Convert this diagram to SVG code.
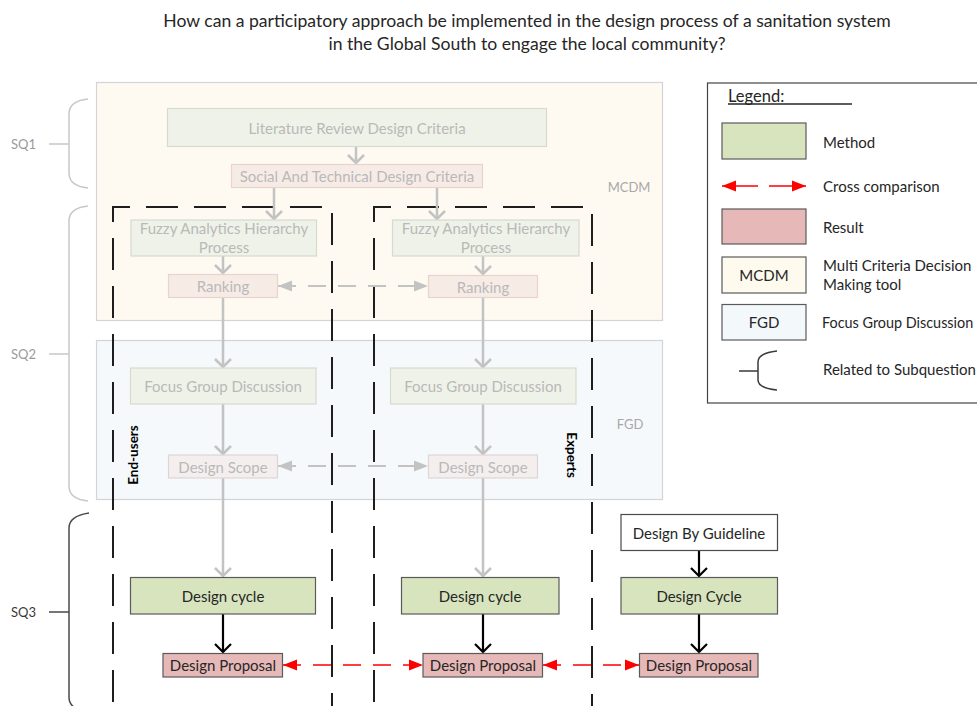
<svg xmlns="http://www.w3.org/2000/svg" width="977" height="706" viewBox="0 0 977 706">
<defs>
<style>
text{font-family:Lato,"Open Sans","Liberation Sans",sans-serif;dominant-baseline:central}
.t{fill:#262626;font-size:15px;text-anchor:middle}
.tf{fill:#b9b9b9;font-size:15px;text-anchor:middle}
.lg{fill:#262626;font-size:15px}
.sq{fill:#9a9a9a;font-size:13px}
.lab{fill:#a8a8a8;font-size:13px;text-anchor:middle}
.method{fill:#d7e4bd;stroke:#5a5a5a;stroke-width:1.2}
.result{fill:#e6b9b8;stroke:#5a5a5a;stroke-width:1.2}
.fmethod{fill:#eff2e8;stroke:#d6dbcd;stroke-width:1.2}
.fresult{fill:#f7ebe6;stroke:#e8d3cf;stroke-width:1.2}
.fresult2{fill:#f4eeee;stroke:#ddd6d6;stroke-width:1.2}
.ga{stroke:#c3c3c3;stroke-width:2.5;fill:none;marker-end:url(#gchev)}
.ba{stroke:#000;stroke-width:2.2;fill:none;marker-end:url(#bchev)}
.gd{stroke:#c3c3c3;stroke-width:2;fill:none;stroke-dasharray:18 12;marker-start:url(#gtri);marker-end:url(#gtri)}
.rd{stroke:#ff0000;stroke-width:1.6;fill:none;stroke-dasharray:18 12;marker-start:url(#rtri);marker-end:url(#rtri)}
.dash{stroke:#1e1e1e;stroke-width:2;fill:none;stroke-dasharray:32 16;stroke-dashoffset:30}
.br{fill:none;stroke-width:1.5}
</style>
<marker id="gchev" viewBox="-10 -10 20 20" markerWidth="20" markerHeight="20" refX="0" refY="0" orient="auto" markerUnits="userSpaceOnUse">
<path d="M-8,-8 L0,0 L-8,8" fill="none" stroke="#c3c3c3" stroke-width="2.5"/>
</marker>
<marker id="bchev" viewBox="-10 -10 20 20" markerWidth="20" markerHeight="20" refX="0" refY="0" orient="auto" markerUnits="userSpaceOnUse">
<path d="M-8,-8 L0,0 L-8,8" fill="none" stroke="#000" stroke-width="2.2"/>
</marker>
<marker id="gtri" viewBox="0 -6 14 12" markerWidth="14" markerHeight="12" refX="14" refY="0" orient="auto-start-reverse" markerUnits="userSpaceOnUse">
<path d="M0,-5.5 L14,0 L0,5.5 Z" fill="#c3c3c3"/>
</marker>
<marker id="rtri" viewBox="0 -6 14 12" markerWidth="14" markerHeight="12" refX="14" refY="0" orient="auto-start-reverse" markerUnits="userSpaceOnUse">
<path d="M0,-5.5 L14,0 L0,5.5 Z" fill="#ff0000"/>
</marker>
</defs>
<rect width="977" height="706" fill="#ffffff"/>

<g id="title">
<text x="527" y="20" style="font-size:17.6px;fill:#262626;text-anchor:middle">How can a participatory approach be implemented in the design process of a sanitation system</text>
<text x="527" y="43" style="font-size:17.6px;fill:#262626;text-anchor:middle">in the Global South to engage the local community?</text>
</g>

<g id="mcdm-zone">
<rect x="96.5" y="82.5" width="566" height="238" fill="#fefaf2" stroke="#d4d4d4" stroke-width="1.2"/>
<text class="lab" x="629" y="187">MCDM</text>
</g>
<g id="fgd-zone">
<rect x="96.5" y="340.5" width="566" height="159" fill="#f5f9fb" stroke="#d4d4d4" stroke-width="1.2"/>
<text class="lab" x="630" y="424">FGD</text>
</g>

<g id="brackets">
<g id="sq1">
<text class="sq" x="11" y="144">SQ1</text>
<path class="br" stroke="#c8c8c8" d="M49,144 H69 M88,99 Q69,101 69,114 V173 Q69,186 88,188"/>
</g>
<g id="sq2">
<text class="sq" x="11" y="354">SQ2</text>
<path class="br" stroke="#c8c8c8" d="M49,354 H69 M88,206 Q69,208 69,221 V486 Q69,499 88,501"/>
</g>
<g id="sq3">
<text class="sq" x="11" y="612" style="fill:#3a3a3a">SQ3</text>
<path class="br" stroke="#4a4a4a" d="M49,612 H69 M89,513 Q69,516 69,528 V697 Q69,710 89,712"/>
</g>
</g>

<g id="groups">
<g id="end-users">
<path class="dash" d="M113,720 V207 H332 V720"/>
<text x="133" y="455" transform="rotate(-90 133 455)" style="font-size:13.5px;font-weight:bold;fill:#000;text-anchor:middle">End-users</text>
</g>
<g id="experts">
<path class="dash" d="M374,720 V207 H592 V720"/>
<text x="572" y="455" transform="rotate(90 572 455)" style="font-size:13.5px;font-weight:bold;fill:#000;text-anchor:middle">Experts</text>
</g>
</g>

<g id="connectors">
<line class="ga" x1="356" y1="147" x2="356" y2="163"/>
<line class="ga" x1="274" y1="188" x2="274" y2="219"/>
<line class="ga" x1="437" y1="188" x2="437" y2="219"/>
<line class="ga" x1="223" y1="256" x2="223" y2="273"/>
<line class="ga" x1="483" y1="256" x2="483" y2="274"/>
<line class="ga" x1="223" y1="298" x2="223" y2="367"/>
<line class="ga" x1="483" y1="298" x2="483" y2="367"/>
<line class="ga" x1="223" y1="404" x2="223" y2="454"/>
<line class="ga" x1="483" y1="404" x2="483" y2="454"/>
<line class="ga" x1="223" y1="478" x2="223" y2="576"/>
<line class="ga" x1="483" y1="478" x2="483" y2="576"/>
<line class="gd" x1="278" y1="286" x2="428" y2="286"/>
<line class="gd" x1="278" y1="466" x2="428" y2="466"/>
<line class="ba" x1="223" y1="614" x2="223" y2="652"/>
<line class="ba" x1="483" y1="614" x2="483" y2="652"/>
<line class="ba" x1="699" y1="551" x2="699" y2="576"/>
<line class="ba" x1="699" y1="614" x2="699" y2="652"/>
<line class="rd" x1="283" y1="665" x2="423" y2="665"/>
<line class="rd" x1="543" y1="665" x2="639" y2="665"/>
</g>

<g id="lit-review"><rect class="fmethod" x="167.5" y="108.5" width="379" height="38"/><text class="tf" x="357" y="127.5">Literature Review Design Criteria</text></g>
<g id="social-tech"><rect class="fresult" x="231.5" y="164.5" width="251" height="23"/><text class="tf" x="357" y="176">Social And Technical Design Criteria</text></g>
<g id="fahp-1"><rect class="fmethod" x="131" y="220" width="185.5" height="36"/><text class="tf" x="224" y="228">Fuzzy Analytics Hierarchy</text><text class="tf" x="224" y="247">Process</text></g>
<g id="fahp-2"><rect class="fmethod" x="392.5" y="220" width="186.5" height="36"/><text class="tf" x="486" y="228">Fuzzy Analytics Hierarchy</text><text class="tf" x="486" y="247">Process</text></g>
<g id="ranking-1"><rect class="fresult" x="168.5" y="274.5" width="109" height="23"/><text class="tf" x="223" y="286">Ranking</text></g>
<g id="ranking-2"><rect class="fresult" x="428.5" y="275.5" width="109" height="22"/><text class="tf" x="483" y="287">Ranking</text></g>
<g id="fgd-1"><rect class="fmethod" x="130.5" y="368" width="185.5" height="36"/><text class="tf" x="223" y="386">Focus Group Discussion</text></g>
<g id="fgd-2"><rect class="fmethod" x="390.5" y="368" width="185.5" height="36"/><text class="tf" x="483" y="386">Focus Group Discussion</text></g>
<g id="scope-1"><rect class="fresult2" x="168.5" y="455" width="109" height="23"/><text class="tf" x="223" y="466.5">Design Scope</text></g>
<g id="scope-2"><rect class="fresult2" x="428.5" y="455" width="109" height="23"/><text class="tf" x="483" y="466.5">Design Scope</text></g>
<g id="guideline"><rect x="621" y="514.5" width="156.5" height="36" fill="#fff" stroke="#4a4a4a" stroke-width="1.2"/><text class="t" x="699" y="532.5">Design By Guideline</text></g>
<g id="cycle-1"><rect class="method" x="130.5" y="577.5" width="185" height="36.5"/><text class="t" x="223" y="595.5">Design cycle</text></g>
<g id="cycle-2"><rect class="method" x="401.5" y="577.5" width="157.5" height="36.5"/><text class="t" x="480" y="595.5">Design cycle</text></g>
<g id="cycle-3"><rect class="method" x="621" y="577.5" width="156.5" height="36.5"/><text class="t" x="699" y="595.5">Design Cycle</text></g>
<g id="proposal-1"><rect class="result" x="163" y="653.5" width="119.5" height="23.5"/><text class="t" x="223" y="665">Design Proposal</text></g>
<g id="proposal-2"><rect class="result" x="423" y="653.5" width="119.5" height="23.5"/><text class="t" x="483" y="665">Design Proposal</text></g>
<g id="proposal-3"><rect class="result" x="639.5" y="653.5" width="118.5" height="23.5"/><text class="t" x="699" y="665">Design Proposal</text></g>

<g id="legend">
<rect x="707.5" y="83" width="280" height="320" fill="#fff" stroke="#444" stroke-width="1.2"/>
<text class="lg" x="728" y="96" style="font-size:16.5px">Legend:</text>
<line x1="728" y1="104" x2="852" y2="104" stroke="#262626" stroke-width="1.3"/>
<rect class="method" x="722" y="123" width="84" height="36"/>
<text class="lg" x="823" y="142">Method</text>
<line x1="722" y1="186" x2="758" y2="186" stroke="#ff0000" stroke-width="1.6" marker-start="url(#rtri)"/>
<line x1="769" y1="186" x2="806" y2="186" stroke="#ff0000" stroke-width="1.6" marker-end="url(#rtri)"/>
<text class="lg" x="823" y="186">Cross comparison</text>
<rect class="result" x="722" y="209" width="84" height="35"/>
<text class="lg" x="823" y="227">Result</text>
<rect x="722" y="257" width="84" height="36" fill="#fefaee" stroke="#5a5a5a" stroke-width="1.2"/>
<text class="lg" x="764" y="275" style="text-anchor:middle">MCDM</text>
<text class="lg" x="823" y="265">Multi Criteria Decision</text>
<text class="lg" x="823" y="284">Making tool</text>
<rect x="722" y="304.5" width="84" height="35.5" fill="#f3f8fb" stroke="#5a5a5a" stroke-width="1.2"/>
<text class="lg" x="764" y="322" style="text-anchor:middle">FGD</text>
<text class="lg" x="822" y="322" style="font-size:14.4px">Focus Group Discussion</text>
<path class="br" stroke="#3a3a3a" d="M739,371 H758 M777,351 Q758,353 758,362 V380 Q758,388 777,390"/>
<text class="lg" x="823" y="369">Related to Subquestion</text>
</g>
</svg>
